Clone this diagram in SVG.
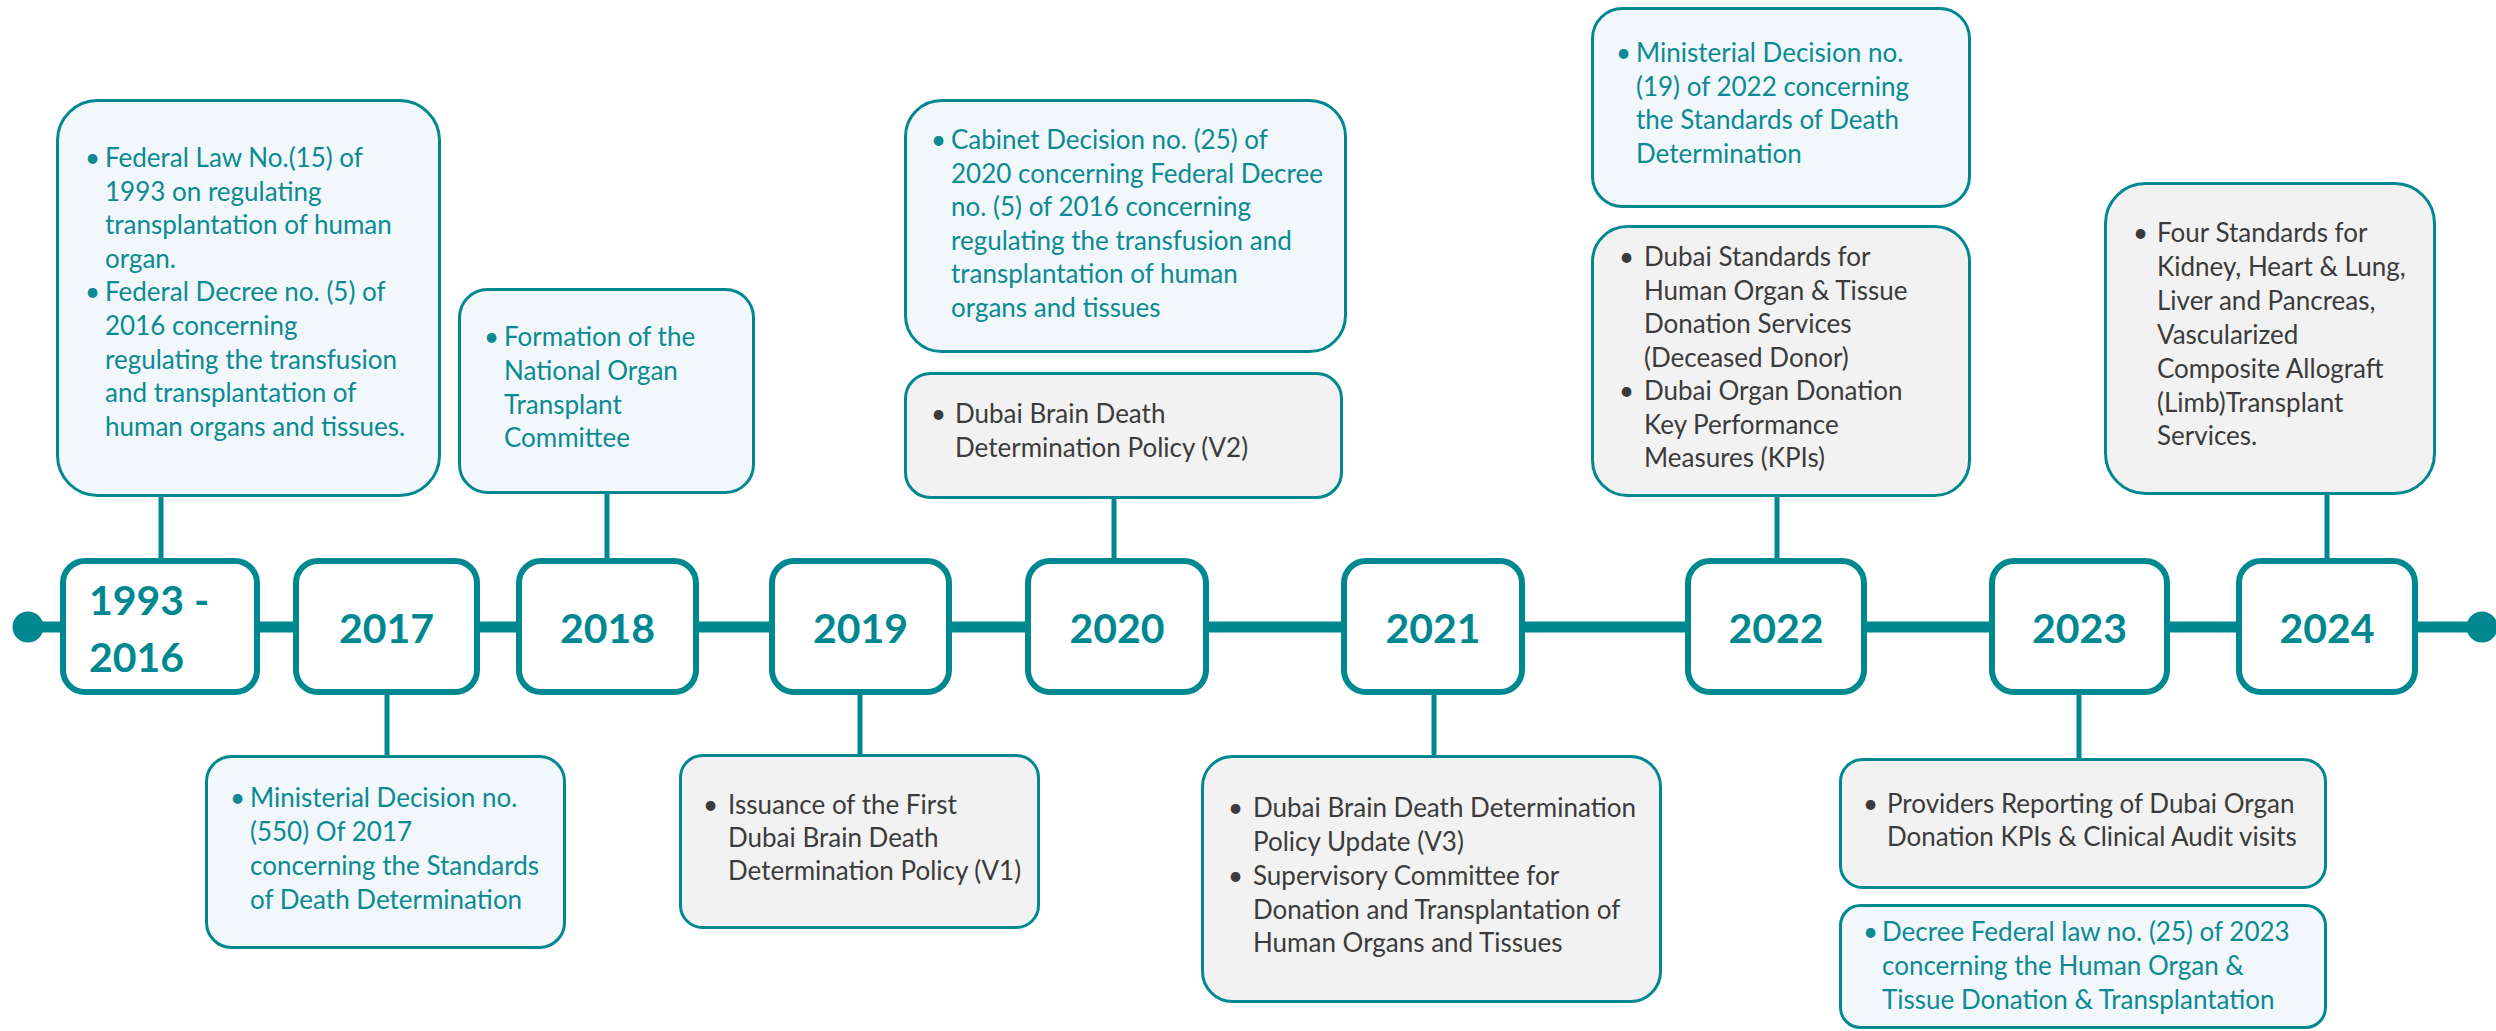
<svg xmlns="http://www.w3.org/2000/svg" width="2496" height="1031" viewBox="0 0 2496 1031">
<style>
.yr{fill:#fff;stroke:#008891;stroke-width:6}
.cb{fill:#f1f7fa;stroke:#008891;stroke-width:3}
.cg{fill:#f2f2f2;stroke:#008891;stroke-width:3}
.yt{font-family:Lato,"Liberation Sans",sans-serif;font-weight:bold;font-size:41px;fill:#008891}
.tb{font-family:Lato,"Liberation Sans",sans-serif;font-size:26px;fill:#0b8a93}
.tg{font-family:Lato,"Liberation Sans",sans-serif;font-size:26px;fill:#3b3b3b}
.ln{stroke:#008891;stroke-width:5;fill:none}
</style>
<rect width="2496" height="1031" fill="#fff"/>
<g id="connectors">
<line x1="28" y1="627" x2="2482" y2="627" stroke="#008891" stroke-width="11"/>
<circle cx="28" cy="627" r="15.5" fill="#008891"/>
<circle cx="2482" cy="627" r="15.5" fill="#008891"/>
<line class="ln" x1="161" y1="496" x2="161" y2="560"/>
<line class="ln" x1="607" y1="493" x2="607" y2="560"/>
<line class="ln" x1="387" y1="694" x2="387" y2="756"/>
<line class="ln" x1="860" y1="694" x2="860" y2="755"/>
<line class="ln" x1="1114" y1="498" x2="1114" y2="560"/>
<line class="ln" x1="1434" y1="694" x2="1434" y2="756"/>
<line class="ln" x1="1777" y1="496" x2="1777" y2="560"/>
<line class="ln" x1="2079" y1="694" x2="2079" y2="759"/>
<line class="ln" x1="2327" y1="494" x2="2327" y2="560"/>
</g>
<g id="y1993"><rect class="yr" x="63" y="561" width="194" height="131" rx="22"/>
<text class="yt" x="89" y="615">1993 -</text><text class="yt" x="89" y="672">2016</text></g>
<g id="y2017"><rect class="yr" x="296" y="561" width="181" height="131" rx="22"/><text class="yt" x="386.5" y="643" text-anchor="middle">2017</text></g>
<g id="y2018"><rect class="yr" x="519" y="561" width="177" height="131" rx="22"/><text class="yt" x="607.5" y="643" text-anchor="middle">2018</text></g>
<g id="y2019"><rect class="yr" x="772" y="561" width="177" height="131" rx="22"/><text class="yt" x="860.5" y="643" text-anchor="middle">2019</text></g>
<g id="y2020"><rect class="yr" x="1028" y="561" width="178" height="131" rx="22"/><text class="yt" x="1117" y="643" text-anchor="middle">2020</text></g>
<g id="y2021"><rect class="yr" x="1344" y="561" width="178" height="131" rx="22"/><text class="yt" x="1433" y="643" text-anchor="middle">2021</text></g>
<g id="y2022"><rect class="yr" x="1688" y="561" width="176" height="131" rx="22"/><text class="yt" x="1776" y="643" text-anchor="middle">2022</text></g>
<g id="y2023"><rect class="yr" x="1992" y="561" width="175" height="131" rx="22"/><text class="yt" x="2079.5" y="643" text-anchor="middle">2023</text></g>
<g id="y2024"><rect class="yr" x="2239" y="561" width="176" height="131" rx="22"/><text class="yt" x="2327" y="643" text-anchor="middle">2024</text></g>

<g id="c1993"><rect class="cb" x="57.5" y="100.5" width="382" height="395" rx="40"/>
<text class="tb"><tspan x="85" y="167">•</tspan><tspan x="105" y="167">Federal Law No.(15) of</tspan><tspan x="105" y="200.6">1993 on regulating</tspan><tspan x="105" y="234.2">transplantation of human</tspan><tspan x="105" y="267.8">organ.</tspan><tspan x="85" y="301.4">•</tspan><tspan x="105" y="301.4">Federal Decree no. (5) of</tspan><tspan x="105" y="335">2016 concerning</tspan><tspan x="105" y="368.6">regulating the transfusion</tspan><tspan x="105" y="402.2">and transplantation of</tspan><tspan x="105" y="435.8">human organs and tissues.</tspan></text></g>

<g id="c2018"><rect class="cb" x="459.5" y="289.5" width="294" height="203" rx="28"/>
<text class="tb"><tspan x="484" y="346">•</tspan><tspan x="504" y="346">Formation of the</tspan><tspan x="504" y="380">National Organ</tspan><tspan x="504" y="414">Transplant</tspan><tspan x="504" y="447">Committee</tspan></text></g>

<g id="c2017"><rect class="cb" x="206.5" y="756.5" width="358" height="191" rx="25"/>
<text class="tb"><tspan x="230" y="807">•</tspan><tspan x="250" y="807">Ministerial Decision no.</tspan><tspan x="250" y="841">(550) Of 2017</tspan><tspan x="250" y="875">concerning the Standards</tspan><tspan x="250" y="909">of Death Determination</tspan></text></g>

<g id="c2019"><rect class="cg" x="680.5" y="755.5" width="358" height="172" rx="22"/>
<text class="tg"><tspan x="703" y="814">•</tspan><tspan x="728" y="814">Issuance of the First</tspan><tspan x="728" y="847">Dubai Brain Death</tspan><tspan x="728" y="880">Determination Policy (V1)</tspan></text></g>

<g id="c2020a"><rect class="cb" x="905.5" y="100.5" width="440" height="251" rx="36"/>
<text class="tb"><tspan x="931" y="149">•</tspan><tspan x="951" y="149">Cabinet Decision no. (25) of</tspan><tspan x="951" y="182.6">2020 concerning Federal Decree</tspan><tspan x="951" y="216.2">no. (5) of 2016 concerning</tspan><tspan x="951" y="249.8">regulating the transfusion and</tspan><tspan x="951" y="283.4">transplantation of human</tspan><tspan x="951" y="317">organs and tissues</tspan></text></g>

<g id="c2020b"><rect class="cg" x="905.5" y="373.5" width="436" height="124" rx="25"/>
<text class="tg"><tspan x="931" y="423">•</tspan><tspan x="955" y="423">Dubai Brain Death</tspan><tspan x="955" y="457">Determination Policy (V2)</tspan></text></g>

<g id="c2021"><rect class="cg" x="1202.5" y="756.5" width="458" height="245" rx="30"/>
<text class="tg"><tspan x="1228" y="817">•</tspan><tspan x="1253" y="817">Dubai Brain Death Determination</tspan><tspan x="1253" y="851">Policy Update (V3)</tspan><tspan x="1228" y="885">•</tspan><tspan x="1253" y="885">Supervisory Committee for</tspan><tspan x="1253" y="919">Donation and Transplantation of</tspan><tspan x="1253" y="952">Human Organs and Tissues</tspan></text></g>

<g id="c2022a"><rect class="cb" x="1592.5" y="8.5" width="377" height="198" rx="30"/>
<text class="tb"><tspan x="1616" y="62">•</tspan><tspan x="1636" y="62">Ministerial Decision no.</tspan><tspan x="1636" y="96">(19) of 2022 concerning</tspan><tspan x="1636" y="129">the Standards of Death</tspan><tspan x="1636" y="163">Determination</tspan></text></g>

<g id="c2022b"><rect class="cg" x="1592.5" y="226.5" width="377" height="269" rx="35"/>
<text class="tg"><tspan x="1619" y="266">•</tspan><tspan x="1644" y="266">Dubai Standards for</tspan><tspan x="1644" y="299.5">Human Organ &amp; Tissue</tspan><tspan x="1644" y="333">Donation Services</tspan><tspan x="1644" y="366.5">(Deceased Donor)</tspan><tspan x="1619" y="400">•</tspan><tspan x="1644" y="400">Dubai Organ Donation</tspan><tspan x="1644" y="433.5">Key Performance</tspan><tspan x="1644" y="467">Measures (KPIs)</tspan></text></g>

<g id="c2024"><rect class="cg" x="2105.5" y="183.5" width="329" height="310" rx="40"/>
<text class="tg"><tspan x="2133" y="242">•</tspan><tspan x="2157" y="242">Four Standards for</tspan><tspan x="2157" y="276">Kidney, Heart &amp; Lung,</tspan><tspan x="2157" y="310">Liver and Pancreas,</tspan><tspan x="2157" y="344">Vascularized</tspan><tspan x="2157" y="378">Composite Allograft</tspan><tspan x="2157" y="412">(Limb)Transplant</tspan><tspan x="2157" y="445">Services.</tspan></text></g>

<g id="c2023a"><rect class="cg" x="1840.5" y="759.5" width="485" height="128" rx="22"/>
<text class="tg"><tspan x="1863" y="813">•</tspan><tspan x="1887" y="813">Providers Reporting of Dubai Organ</tspan><tspan x="1887" y="846">Donation KPIs &amp; Clinical Audit visits</tspan></text></g>

<g id="c2023b"><rect class="cb" x="1840.5" y="905.5" width="485" height="122" rx="20"/>
<text class="tb"><tspan x="1863" y="941">•</tspan><tspan x="1882" y="941">Decree Federal law no. (25) of 2023</tspan><tspan x="1882" y="975">concerning the Human Organ &amp;</tspan><tspan x="1882" y="1009">Tissue Donation &amp; Transplantation</tspan></text></g>
</svg>
